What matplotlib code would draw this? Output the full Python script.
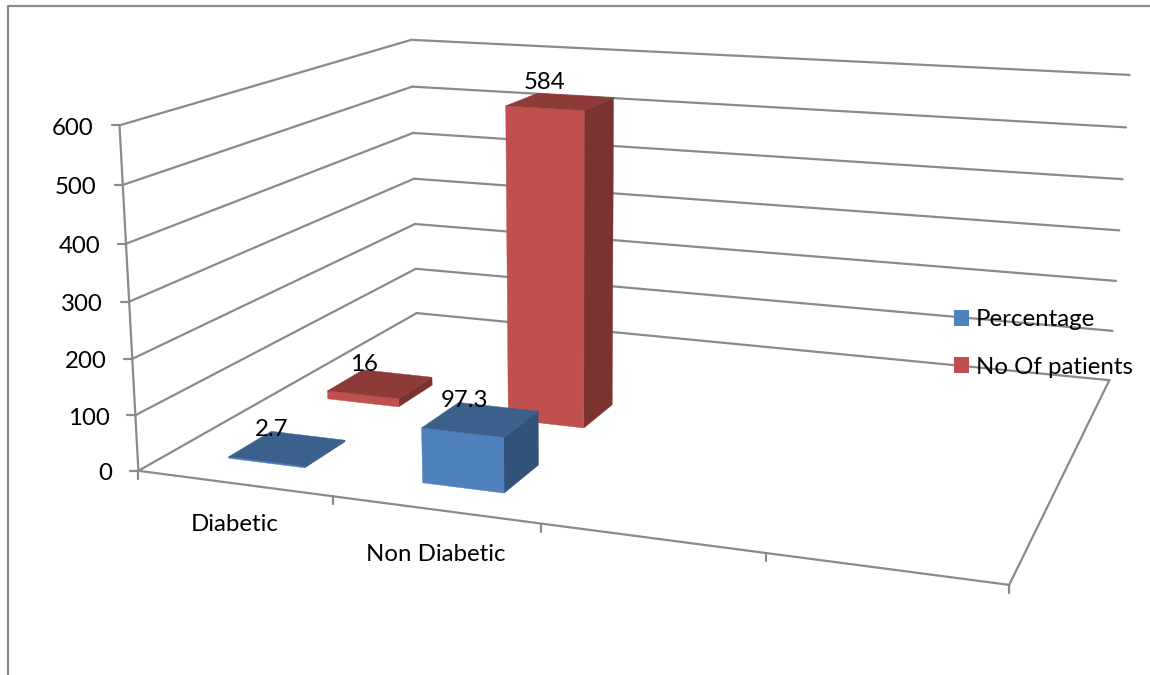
import numpy as np
import matplotlib as mpl
mpl.use('Agg')
import matplotlib.pyplot as plt
from matplotlib.patches import Polygon, Patch

plt.rcParams['font.family'] = ['Lato', 'DejaVu Sans']

categories = ['Diabetic', 'Non Diabetic']
percentage = [2.7, 97.3]
patients = [16, 584]
y_ticks = [0, 100, 200, 300, 400, 500, 600]
n_slots = 4

BLUE = {'front': '#4f81bd', 'top': '#3c608c', 'side': '#32527a'}
RED = {'front': '#c0504d', 'top': '#8e3a38', 'side': '#7a3331'}
GRID = '#8a8a8a'
FS = 17.3

# depth bands of the two series, 0 = front edge of the floor, 1 = back wall
BAND_PCT = (0.10, 0.236)
BAND_PAT = (0.433, 0.567)
BAR_X = (0.3, 0.7)

# box corners on screen, (slot fraction, depth, height fraction) -> pixel
corners = [
    (0, 0, 0, 140, 471), (1, 0, 0, 1009, 585), (1, 1, 0, 1110, 380), (0, 1, 0, 415, 313),
    (0, 0, 1, 118, 125), (0, 1, 1, 413, 40), (1, 1, 1, 1129, 75),
]
rows, rhs = [], []
for X, Y, Z, u, v in corners:
    rows.append([X, Y, Z, 1, 0, 0, 0, 0, -u * X, -u * Y, -u * Z])
    rows.append([0, 0, 0, 0, X, Y, Z, 1, -v * X, -v * Y, -v * Z])
    rhs += [u, v]
cam = np.linalg.lstsq(np.array(rows, float), np.array(rhs, float), rcond=None)[0]
cam = np.append(cam, 1).reshape(3, 4)


def project(slot, depth, value):
    p = cam @ np.array([slot / n_slots, depth, value / y_ticks[-1], 1.0])
    return p[0] / p[2], p[1] / p[2]


def draw_bar(ax, slot, band, value, colors):
    x0, x1 = slot + BAR_X[0], slot + BAR_X[1]
    d0, d1 = band
    faces = {
        'side': [(x1, d0, 0), (x1, d1, 0), (x1, d1, value), (x1, d0, value)],
        'front': [(x0, d0, 0), (x1, d0, 0), (x1, d0, value), (x0, d0, value)],
        'top': [(x0, d0, value), (x1, d0, value), (x1, d1, value), (x0, d1, value)],
    }
    for name, pts in faces.items():
        ax.add_patch(Polygon([project(*p) for p in pts], closed=True, fc=colors[name],
                             ec=colors[name], lw=0.3, zorder=3))
    cx, cy = project(slot + 0.5, (d0 + d1) / 2, value)
    ax.text(cx - 16, cy - 19, str(value), ha='center', va='center', fontsize=FS,
            color='black', zorder=6)


fig = plt.figure(figsize=(11.5, 6.75), dpi=100)
ax = fig.add_axes([0, 0, 1, 1])
ax.set_xlim(0, 1150)
ax.set_ylim(675, 0)
ax.axis('off')

# outer chart border, only top and left show
ax.plot([8, 8, 1150], [675, 6, 6], color=GRID, lw=1.6, zorder=1)


def line(a, b, lw=1.6):
    ax.plot([a[0], b[0]], [a[1], b[1]], color=GRID, lw=lw, zorder=2,
            solid_capstyle='round')


# walls
for t in y_ticks:
    left = project(0, 0, t)
    back = project(0, 1, t)
    right = project(n_slots, 1, t)
    line(left, back)
    line(back, right)
    line(left, (left[0] - 8, left[1]))
    ax.text(left[0] - 26, left[1] + 3, str(t), ha='right', va='center', fontsize=FS,
            color='black')
line(project(0, 0, 0), project(0, 0, y_ticks[-1]))

# floor edges and slot ticks
line(project(0, 0, 0), project(n_slots, 0, 0))
line(project(n_slots, 0, 0), project(n_slots, 1, 0))
for s in range(n_slots + 1):
    p = project(s, 0, 0)
    line(p, (p[0], p[1] + 8))

# category labels drop a little further from the edge going right
for i, name in enumerate(categories):
    p = project(i + 0.5, 0, 0)
    ax.text(p[0] + 1, p[1] + 41 + 4 * i, name, ha='center', va='center', fontsize=FS,
            color='black')

# back series first so the front one overlaps it
for i in range(len(categories)):
    draw_bar(ax, i, BAND_PAT, patients[i], RED)
for i in range(len(categories)):
    draw_bar(ax, i, BAND_PCT, percentage[i], BLUE)

handles = [Patch(fc=BLUE['front'], label='Percentage'), Patch(fc=RED['front'], label='No Of patients')]
leg = ax.legend(handles=handles, loc='center left', bbox_to_anchor=(954, 343.5),
                bbox_transform=ax.transData, frameon=False, fontsize=FS, borderpad=0,
                borderaxespad=0, handlelength=0.625, handleheight=0.625, handletextpad=0.29,
                labelspacing=1.09)
leg.set_zorder(7)

plt.savefig('out.png', dpi=100)
